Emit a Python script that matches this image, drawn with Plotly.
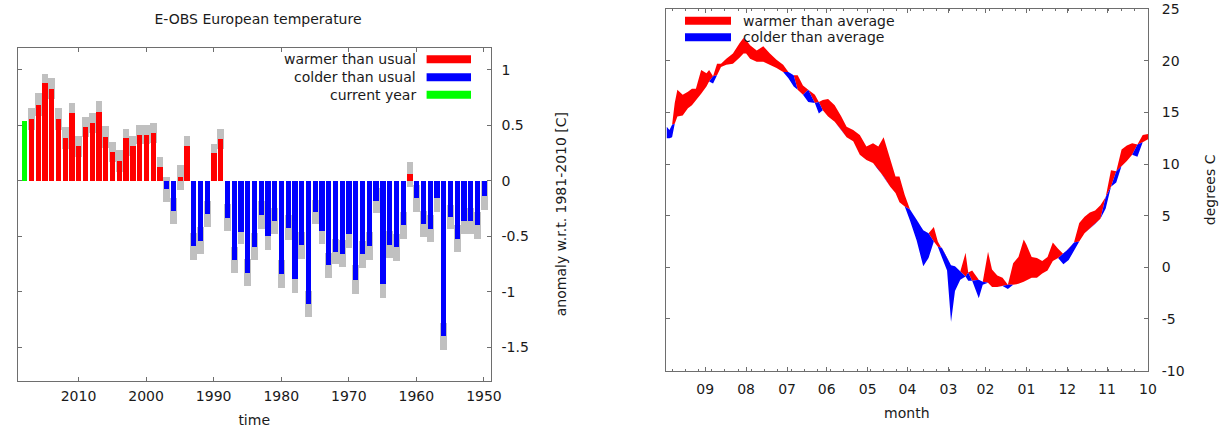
import plotly.graph_objects as go
import pandas as pd

# ---------------- left panel data: yearly anomaly (w.r.t. 1981-2010) ----------------
years = list(range(2018, 1949, -1))
anomaly = [
    0.54, 0.557, 0.69, 0.885, 0.834, 0.557, 0.39, 0.61, 0.316, 0.49,      # 2018-2009
    0.52, 0.62, 0.40, 0.26, 0.18, 0.39, 0.32, 0.42, 0.42, 0.434,          # 2008-1999
    0.127, -0.075, -0.27, 0.033, 0.316, -0.587, -0.536, -0.295, 0.253, 0.38,  # 1998-1989
    -0.33, -0.71, -0.46, -0.825, -0.59, -0.304, -0.497, -0.36, -0.837, -0.42,  # 1988-1979
    -0.88, -0.578, -1.108, -0.28, -0.45, -0.76, -0.636, -0.654, -0.479, -0.89,  # 1978-1969
    -0.66, -0.584, -0.175, -0.93, -0.572, -0.596, -0.40, 0.06, -0.154, -0.386,  # 1968-1959
    -0.428, -0.154, -1.40, -0.325, -0.518, -0.355, -0.36, -0.40, -0.13,        # 1958-1950
]
uncertainty = [
    0.0, 0.10, 0.10, 0.085, 0.095, 0.10, 0.10, 0.09, 0.095, 0.09,
    0.09, 0.10, 0.10, 0.09, 0.10, 0.08, 0.09, 0.085, 0.085, 0.09,
    0.09, 0.11, 0.12, 0.11, 0.09, 0.12, 0.12, 0.12, 0.085, 0.09,
    0.12, 0.12, 0.11, 0.12, 0.12, 0.125, 0.12, 0.115, 0.125, 0.115,
    0.13, 0.12, 0.115, 0.11, 0.12, 0.11, 0.11, 0.12, 0.12, 0.13,
    0.12, 0.125, 0.115, 0.12, 0.12, 0.12, 0.12, 0.11, 0.12, 0.115,
    0.12, 0.12, 0.12, 0.11, 0.12, 0.12, 0.12, 0.12, 0.13,
]
current_year = 2018
year_ticks = [1950, 1960, 1970, 1980, 1990, 2000, 2010]
anom_ticks = [1, 0.5, 0, -0.5, -1, -1.5]
anom_tick_text = ["1", "0.5", "0", "-0.5", "-1", "-1.5"]

# ---------------- right panel data: daily temperature vs average ----------------
season_start = "2017-10-01"
day_offset = [
    0, 4, 8, 12, 16, 20, 24, 28, 32, 36, 40, 44, 48, 52, 56, 60, 64, 68, 72, 76,
    80, 84, 88, 92, 94, 98, 102, 106, 110, 114, 118, 121, 125, 128, 133, 136, 138, 142, 146, 149,
    152, 156, 159, 162, 166, 170, 175, 180, 184, 188, 191, 195, 200, 204, 208, 213, 218, 223, 228, 232,
    237, 242, 246, 249, 252, 257, 261, 265, 268, 272, 276, 281, 286, 291, 296, 301, 304, 306, 309, 314,
    319, 323, 326, 329, 332, 334, 338, 342, 345, 348, 352, 356, 358, 360, 362, 364,
]
observed = [
    12.9, 12.8, 10.7, 12.0, 11.8, 11.4, 8.2, 9.4, 5.7, 6.0, 5.5, 5.3, 4.9, 4.3, 1.6, 0.7, 0.3, 1.8, 2.4, 1.0,
    0.6, 0.9, 1.0, 2.2, 2.7, 1.0, 0.4, -2.1, -1.0, -0.8, -0.2, 1.5, -1.7, -3.0, -0.3, -1.3, 1.4, -1.2, -2.3, -5.3,
    -0.3, 1.0, 2.5, 3.9, 0.9, 0.1, 2.6, 4.5, 7.0, 8.8, 8.8, 10.4, 12.6, 11.7, 12.0, 11.7, 12.8, 13.3, 13.6, 14.6,
    15.7, 16.3, 16.2, 14.9, 16.7, 16.0, 17.6, 18.6, 17.5, 18.3, 19.6, 20.1, 20.7, 21.4, 21.0, 21.5, 22.0, 22.2, 21.7, 20.7,
    20.2, 19.7, 19.7, 17.8, 19.1, 18.8, 19.1, 17.3, 17.3, 17.0, 16.7, 17.2, 15.9, 12.6, 12.5, 12.5,
]
average = [
    12.4, 12.1, 11.9, 10.9, 10.3, 9.8, 9.3, 7.8, 6.8, 4.7, 4.2, 3.7, 3.3, 2.5, 2.4, 1.8, 1.3, 0.9, 0.6, -0.3,
    -0.6, -1.0, -1.0, -1.3, -1.4, -1.6, -1.7, -1.7, -1.8, -1.9, -1.9, -1.5, -1.4, -1.2, -1.3, -0.5, -0.9, -0.4, 0.1, 0.2,
    0.9, 1.9, 2.0, 2.5, 3.3, 3.6, 4.6, 5.6, 5.9, 6.3, 7.2, 7.8, 8.8, 9.5, 10.1, 10.4, 10.9, 12.2, 12.6, 13.3,
    14.1, 14.6, 15.2, 16.0, 15.9, 17.2, 16.7, 17.2, 18.6, 18.9, 18.9, 19.3, 19.6, 19.9, 19.9, 20.2, 20.7, 20.7, 20.3, 19.7,
    19.6, 19.4, 18.6, 18.5, 18.0, 17.5, 16.8, 16.2, 15.7, 15.4, 14.7, 14.6, 13.9, 13.8, 13.3, 13.6,
]
temp_ticks = [25, 20, 15, 10, 5, 0, -5, -10]
temp_tick_text = ["25", "20", "15", "10", "5", "0", "-5", "-10"]

# ---------------- styles ----------------
FONT = "DejaVu Sans"
TXT = "#1a1a1a"
FRAME = "#6e6e6e"
RED, BLUE, GREEN, GRAY = "#ff0000", "#0000ff", "#00ff00", "#c0c0c0"
W, H = 1230, 428


def px(x):
    return x / W


def py(y):
    return 1 - y / H


fig = go.Figure()

# gray uncertainty boxes behind the bars
fig.add_trace(go.Bar(
    x=years, y=[2 * u for u in uncertainty],
    base=[a - u for a, u in zip(anomaly, uncertainty)],
    width=1.0, marker=dict(color=GRAY, line=dict(width=0)),
    showlegend=False, hoverinfo="skip", xaxis="x", yaxis="y"))

warm_years = [y for y, a in zip(years, anomaly) if a >= 0 and y != current_year]
warm_vals = [a for y, a in zip(years, anomaly) if a >= 0 and y != current_year]
cold_years = [y for y, a in zip(years, anomaly) if a < 0 and y != current_year]
cold_vals = [a for y, a in zip(years, anomaly) if a < 0 and y != current_year]
cur_vals = [a for y, a in zip(years, anomaly) if y == current_year]

fig.add_trace(go.Bar(x=warm_years, y=warm_vals, width=0.78, name="warmer than usual",
                     marker=dict(color=RED, line=dict(width=0)), showlegend=False,
                     xaxis="x", yaxis="y"))
fig.add_trace(go.Bar(x=cold_years, y=cold_vals, width=0.78, name="colder than usual",
                     marker=dict(color=BLUE, line=dict(width=0)), showlegend=False,
                     xaxis="x", yaxis="y"))
fig.add_trace(go.Bar(x=[current_year], y=cur_vals, width=0.78, name="current year",
                     marker=dict(color=GREEN, line=dict(width=0)), showlegend=False,
                     xaxis="x", yaxis="y"))

# right panel band
dates = pd.to_datetime(season_start) + pd.to_timedelta(day_offset, unit="D")
warm_edge = [max(o, a) for o, a in zip(observed, average)]
cold_edge = [min(o, a) for o, a in zip(observed, average)]

fig.add_trace(go.Scatter(x=dates, y=average, mode="lines", line=dict(width=0, color=RED),
                         showlegend=False, hoverinfo="skip", xaxis="x2", yaxis="y2"))
fig.add_trace(go.Scatter(x=dates, y=warm_edge, mode="lines", line=dict(width=0, color=RED),
                         fill="tonexty", fillcolor=RED, name="warmer than average",
                         showlegend=False, xaxis="x2", yaxis="y2"))
fig.add_trace(go.Scatter(x=dates, y=average, mode="lines", line=dict(width=0, color=BLUE),
                         showlegend=False, hoverinfo="skip", xaxis="x2", yaxis="y2"))
fig.add_trace(go.Scatter(x=dates, y=cold_edge, mode="lines", line=dict(width=0, color=BLUE),
                         fill="tonexty", fillcolor=BLUE, name="colder than average",
                         showlegend=False, xaxis="x2", yaxis="y2"))

axis_common = dict(showline=True, linecolor=FRAME, linewidth=1, mirror="ticks",
                   ticks="inside", ticklen=4, tickcolor=FRAME, showgrid=False,
                   zeroline=False, automargin=False,
                   tickfont=dict(family=FONT, size=14, color=TXT),
                   title_font=dict(family=FONT, size=14, color=TXT))

fig.update_layout(
    width=W, height=H, margin=dict(l=0, r=0, t=0, b=0, autoexpand=False),
    paper_bgcolor="white", plot_bgcolor="white",
    barmode="overlay", bargap=0, showlegend=False,
    font=dict(family=FONT, size=14, color=TXT),
    title=dict(text="E-OBS European temperature", x=px(258), y=py(19),
               xanchor="center", yanchor="middle", automargin=False,
               font=dict(family=FONT, size=14, color=TXT)),
    xaxis=dict(domain=[px(17.7), px(490.7)], range=[2019, 1949],
               tickvals=year_ticks, ticklabelstandoff=3,
               title=dict(text="time", standoff=12), anchor="y", **axis_common),
    yaxis=dict(domain=[py(380.5), py(47.7)], range=[-1.8, 1.2], side="right",
               tickvals=anom_ticks, ticktext=anom_tick_text, ticklabelstandoff=7,
               title=dict(text="anomaly w.r.t. 1981-2010 [C]", standoff=28),
               anchor="x", **axis_common),
    xaxis2=dict(domain=[px(665.7), px(1148)], type="date",
                range=["2018-09-30 20:00", "2017-10-01"],
                dtick="M1", tick0="2017-10-01", tickformat="%m", ticklabelstandoff=6,
                minor=dict(dtick=10 * 86400000, tick0="2017-10-01", ticks="inside",
                           ticklen=2, tickcolor=FRAME, showgrid=False),
                title=dict(text="month", standoff=11), anchor="y2", **axis_common),
    yaxis2=dict(domain=[py(370.6), py(9.1)], range=[-10, 25], side="right",
                tickvals=temp_ticks, ticktext=temp_tick_text, ticklabelstandoff=10,
                title=dict(text="degrees C", standoff=21),
                anchor="x2", **axis_common),
)

# legends (swatch + label), placed as in the reference
shapes = []
annotations = []
left_legend = [("warmer than usual", RED, 59.3), ("colder than usual", BLUE, 77.3),
               ("current year", GREEN, 94.7)]
for label, col, yc in left_legend:
    shapes.append(dict(type="rect", xref="paper", yref="paper", x0=px(426.6), x1=px(471),
                       y0=py(yc + 4), y1=py(yc - 4), fillcolor=col, line=dict(width=0)))
    annotations.append(dict(text=label, xref="paper", yref="paper", x=px(418), y=py(yc),
                            xanchor="right", yanchor="middle", showarrow=False,
                            font=dict(family=FONT, size=14, color=TXT)))
right_legend = [("warmer than average", RED, 20.7), ("colder than average", BLUE, 37.3)]
for label, col, yc in right_legend:
    shapes.append(dict(type="rect", xref="paper", yref="paper", x0=px(685), x1=px(731),
                       y0=py(yc + 4), y1=py(yc - 4), fillcolor=col, line=dict(width=0)))
    annotations.append(dict(text=label, xref="paper", yref="paper", x=px(741), y=py(yc),
                            xanchor="left", yanchor="middle", showarrow=False,
                            font=dict(family=FONT, size=14, color=TXT)))
fig.update_layout(shapes=shapes, annotations=annotations)

# remove the default page margin so the figure sits at the window's top-left corner
fig.write_html("out.html", config={"displayModeBar": False},
               post_script="document.body.style.margin='0';")
